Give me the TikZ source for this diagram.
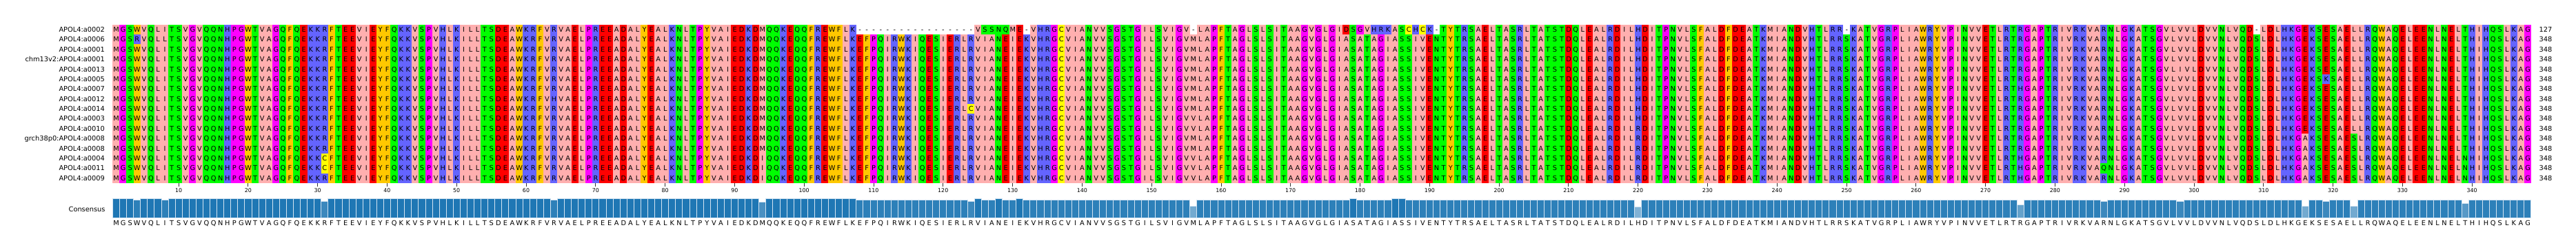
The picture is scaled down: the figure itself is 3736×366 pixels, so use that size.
\documentclass[tikz,border=0pt]{standalone}
\usepackage{fontspec}
\setmainfont{DejaVu Sans}
\definecolor{zHyd}{HTML}{FFAFAF}
\definecolor{zAro}{HTML}{FFC800}
\definecolor{zPos}{HTML}{6464FF}
\definecolor{zNeg}{HTML}{FF0000}
\definecolor{zPol}{HTML}{00FF00}
\definecolor{zSpc}{HTML}{FF00FF}
\definecolor{zCys}{HTML}{FFFF00}
\colorlet{zA}{zHyd}\colorlet{zI}{zHyd}\colorlet{zL}{zHyd}\colorlet{zM}{zHyd}\colorlet{zV}{zHyd}
\colorlet{zF}{zAro}\colorlet{zW}{zAro}\colorlet{zY}{zAro}
\colorlet{zH}{zPos}\colorlet{zK}{zPos}\colorlet{zR}{zPos}
\colorlet{zD}{zNeg}\colorlet{zE}{zNeg}
\colorlet{zN}{zPol}\colorlet{zQ}{zPol}\colorlet{zS}{zPol}\colorlet{zT}{zPol}
\colorlet{zG}{zSpc}\colorlet{zP}{zSpc}
\colorlet{zC}{zCys}
\definecolor{tabblue}{HTML}{1F77B4}
\definecolor{baredge}{HTML}{D4E4F2}
\definecolor{tickgrey}{HTML}{333333}

\newcount\colidx
\newdimen\cwd \cwd=10.079pt
\def\cw{10.079}
\def\xzero{163.3}
\def\rh{14.39}
\def\yzero{35.7}
\def\ytwo{50.09}
\def\yend{265.94}

\def\varlist{}
\newcommand\setres[3]{\expandafter\gdef\csname s#1:#2\endcsname{#3}}
\newcommand\setvar[3]{\setres{#1}{#2}{#3}%
  \xdef\varlist{\unexpanded\expandafter{\varlist}\noexpand\dovar{#1}{#2}{#3}}}
\newcommand\setid[2]{\expandafter\gdef\csname id:#1\endcsname{#2}}

\def\consseq{MGSWVQLITSVGVQQNHPGWTVAGQFQEKKRFTEEVIEYFQKKVSPVHLKILLTSDEAWKRFVRVAELPREEADALYEALKNLTPYVAIEDKDMQQKEQQFREWFLKEFPQIRWKIQESIERLRVIANEIEKVHRGCVIANVVSGSTGILSVIGVMLAPFTAGLSLSITAAGVGLGIASATAGIASSIVENTYTRSAELTASRLTATSTDQLEALRDILHDITPNVLSFALDFDEATKMIANDVHTLRRSKATVGRPLIAWRYVPINVVETLRTRGAPTRIVRKVARNLGKATSGVLVVLDVVNLVQDSLDLHKGEKSESAELLRQWAQELEENLNELTHIHQSLKAG}

% row 1 (APOL4:a0002): gaps and differing residues
\foreach \c in {108,...,124,132,...,177,191,...,348}{\setres{1}{\c}{-}}
\setres{1}{126}{S}\setres{1}{127}{S}\setres{1}{129}{Q}\setres{1}{130}{M}
\setres{1}{178}{D}\setres{1}{180}{G}\setres{1}{181}{V}\setres{1}{182}{H}
\setres{1}{183}{R}\setres{1}{184}{K}\setres{1}{187}{C}\setres{1}{188}{H}
\setres{1}{189}{C}\setres{1}{190}{K}
% other rows
\setvar{2}{4}{R}\setvar{2}{8}{L}
\setvar{5}{298}{I}
\setvar{6}{319}{K}
\setvar{7}{275}{H}
\setvar{8}{64}{H}
\setvar{9}{124}{C}
\setvar{10}{156}{V}\setvar{11}{156}{V}
\foreach \r in {11,...,16}{\setvar{\r}{220}{R}}
\foreach \r in {12,...,16}{\setvar{\r}{316}{A}\setvar{\r}{323}{S}}
\setvar{14}{31}{C}\setvar{15}{31}{C}
\foreach \r in {14,15,16}{\setvar{\r}{94}{I}\setvar{\r}{156}{V}\setvar{\r}{275}{H}\setvar{\r}{339}{N}}
\setvar{15}{287}{Q}

% consensus identity (count out of 16)
\setid{4}{15}\setid{8}{15}\setid{31}{14}\setid{64}{15}\setid{94}{13}
\setid{124}{14}\setid{125}{16}\setid{128}{16}\setid{131}{16}\setid{156}{10}
\setid{179}{16}\setid{185}{16}\setid{186}{16}\setid{220}{9}\setid{275}{11}
\setid{287}{14}\setid{298}{14}\setid{316}{10}\setid{319}{14}\setid{323}{10}
\setid{339}{12}

\tikzset{
  seqtext/.style={inner sep=0pt, anchor=base west, font=\fontsize{9.8}{10}\selectfont},
  namelab/.style={inner sep=0pt, anchor=base east, font=\fontsize{9.8}{10}\selectfont},
  cntlab/.style={inner sep=0pt, anchor=base west, font=\fontsize{9.8}{10}\selectfont},
  ticklab/.style={inner sep=0pt, text height=5.7pt, text depth=0pt, anchor=center,
    font=\fontsize{7.9}{8}\selectfont},
  tickline/.style={draw=tickgrey, line width=0.8pt},
  barbox/.style={draw=baredge, line width=0.7pt},
}

% ---------- backgrounds ----------
\def\fillcolumn#1{%
  \pgfmathsetmacro\cx{\xzero+(\the\colidx-1)*\cw}%
  \ifcsname s1:\the\colidx\endcsname\edef\thechar{\csname s1:\the\colidx\endcsname}\else\def\thechar{#1}\fi
  \if\thechar-\else
    \edef\tmpcol{z\thechar}%
    \fill[fill=\tmpcol] (\cx,\yzero) rectangle (\cx+\cw+0.3,\ytwo+0.3);%
  \fi
  \fill[fill=z#1] (\cx,\ytwo) rectangle (\cx+\cw+0.3,\yend);%
}
\def\fillloop#1{%
  \ifx#1\relax\let\msanext\relax\else
    \advance\colidx by 1\relax
    \fillcolumn{#1}%
    \let\msanext\fillloop
  \fi\msanext}
\def\dovar#1#2#3{%
  \pgfmathsetmacro\cx{\xzero+(#2-1)*\cw}%
  \pgfmathsetmacro\vy{\yzero+(#1-1)*\rh}%
  \fill[fill=z#3] (\cx,\vy) rectangle ++(\cw,\rh);%
}
% ---------- letters ----------
\def\letloop#1{%
  \ifx#1\relax\let\msanext\relax\else
    \advance\colidx by 1\relax
    \ifcsname s\currow:\the\colidx\endcsname
      \hbox to\cwd{\hss\csname s\currow:\the\colidx\endcsname\hss}%
    \else\hbox to\cwd{\hss#1\hss}\fi
    \let\msanext\letloop
  \fi\msanext}
\newcommand\drawrow[4]{% #1 row, #2 node id, #3 name, #4 count
  \pgfmathsetmacro\ymid{\yzero+(#1-0.5)*\rh}%
  \node[namelab] (name#2) at (152,\ymid+3.55) {#3};%
  \node[cntlab] (cnt#2) at (3682.3,\ymid+3.55) {#4};%
  \node[seqtext] (seq#2) at (\xzero,\ymid+3.55) {\def\currow{#1}\colidx=0 \expandafter\letloop\consseq\relax};%
}
% ---------- consensus ----------
\def\drawbar{%
  \ifcsname id:\the\colidx\endcsname\edef\idv{\csname id:\the\colidx\endcsname}\else
    \ifnum\colidx<108 \def\idv{16}\else\def\idv{15}\fi\fi
  \pgfmathsetmacro\cx{\xzero+(\the\colidx-1)*\cw}%
  \pgfmathsetmacro\bh{28.4*\idv/16}%
  \pgfmathsetmacro\bp{100*\idv/16}%
  \fill[fill=tabblue!\bp!white, barbox] (\cx,316.7) rectangle ++(\cw,-\bh);%
}
\def\barloop#1{%
  \ifx#1\relax\let\msanext\relax\else
    \advance\colidx by 1\relax
    \drawbar
    \let\msanext\barloop
  \fi\msanext}
\def\consletloop#1{%
  \ifx#1\relax\let\msanext\relax\else
    \hbox to\cwd{\hss#1\hss}%
    \let\msanext\consletloop
  \fi\msanext}

\begin{document}
\begin{tikzpicture}[x=1pt,y=-1pt]
\useasboundingbox (0,0) rectangle (3736,366);
% cell backgrounds
\colidx=0 \expandafter\fillloop\consseq\relax
\varlist
% names, residues, counts
\drawrow{1}{a}{APOL4:a0002}{127}
\drawrow{2}{b}{APOL4:a0006}{348}
\drawrow{3}{c}{APOL4:a0001}{348}
\drawrow{4}{d}{chm13v2:APOL4:a0001}{348}
\drawrow{5}{e}{APOL4:a0013}{348}
\drawrow{6}{f}{APOL4:a0005}{348}
\drawrow{7}{g}{APOL4:a0007}{348}
\drawrow{8}{h}{APOL4:a0012}{348}
\drawrow{9}{i}{APOL4:a0014}{348}
\drawrow{10}{j}{APOL4:a0003}{348}
\drawrow{11}{k}{APOL4:a0010}{348}
\drawrow{12}{l}{grch38p0:APOL4:a0008}{348}
\drawrow{13}{m}{APOL4:a0008}{348}
\drawrow{14}{n}{APOL4:a0004}{348}
\drawrow{15}{o}{APOL4:a0011}{348}
\drawrow{16}{p}{APOL4:a0009}{348}
% ticks
\foreach \t in {10,20,...,340}{
  \pgfmathsetmacro\tx{\xzero+(\t-0.5)*\cw}
  \coordinate (tt\t) at (\tx,266);
  \coordinate (tb\t) at (\tx,270.5);
  \draw[tickline] (tt\t) -- (tb\t);
  \node[ticklab] (tl\t) at (\tx,276.7) {\t};
}
% consensus
\node[namelab] (conslabel) at (152.7,304+3.55) {Consensus};
\colidx=0 \expandafter\barloop\consseq\relax
\node[seqtext] (consseq) at (\xzero,324+3.55) {\expandafter\consletloop\consseq\relax};
\end{tikzpicture}
\end{document}
